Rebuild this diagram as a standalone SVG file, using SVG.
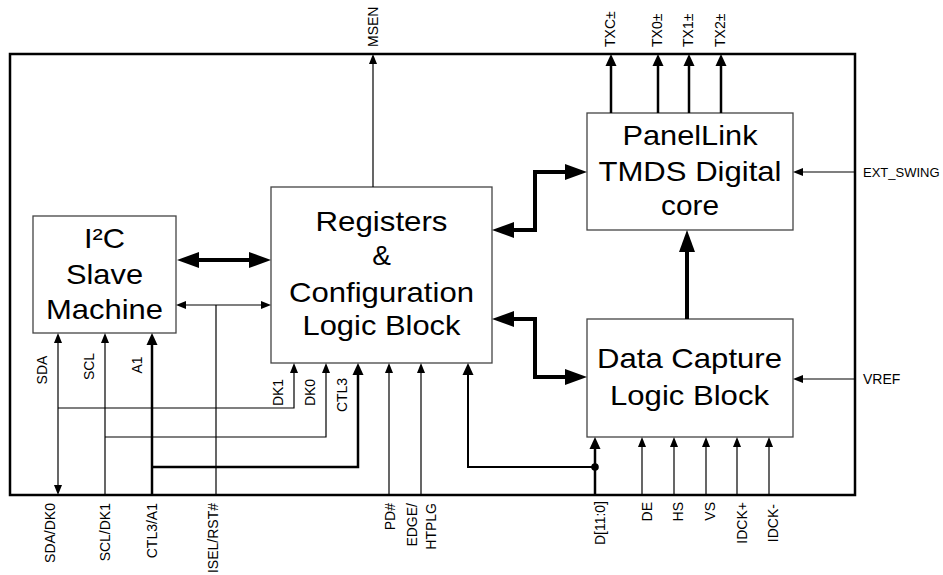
<svg xmlns="http://www.w3.org/2000/svg" width="943" height="575" viewBox="0 0 943 575">
<style>
.box{fill:#fff;stroke:#444;stroke-width:1.3}
.big{font-family:"Liberation Sans",Arial,sans-serif;font-size:28px;fill:#000;text-anchor:middle}
.lbl{font-family:"Liberation Sans",Arial,sans-serif;font-size:14px;fill:#000}
.w1{fill:none;stroke:#000;stroke-width:1.2}
.w2{fill:none;stroke:#000;stroke-width:2.5}
.w4{fill:none;stroke:#000;stroke-width:4}
.mid{text-anchor:middle}
.end{text-anchor:end}
</style>
<defs>
<marker id="aS" markerUnits="userSpaceOnUse" markerWidth="10" markerHeight="8" refX="0" refY="4" orient="auto-start-reverse" overflow="visible"><path d="M0,0 L10,4 L0,8 z" fill="#000"/></marker>
<marker id="aM" markerUnits="userSpaceOnUse" markerWidth="12" markerHeight="11" refX="0" refY="5.5" orient="auto-start-reverse" overflow="visible"><path d="M0,0 L12,5.5 L0,11 z" fill="#000"/></marker>
<marker id="aL" markerUnits="userSpaceOnUse" markerWidth="22" markerHeight="16" refX="0" refY="8" orient="auto-start-reverse" overflow="visible"><path d="M0,0 L22,8 L0,16 z" fill="#000"/></marker>
</defs>
<rect width="943" height="575" fill="#fff"/>
<g id="frame"><rect x="10" y="54" width="845" height="441" fill="none" stroke="#000" stroke-width="2.5"/></g>
<g id="i2c">
<rect class="box" x="33" y="216" width="143" height="117"/>
<text class="big" x="104.5" y="248" textLength="41" lengthAdjust="spacingAndGlyphs">I²C</text>
<text class="big" x="104.5" y="284" textLength="77" lengthAdjust="spacingAndGlyphs">Slave</text>
<text class="big" x="104.5" y="319" textLength="117" lengthAdjust="spacingAndGlyphs">Machine</text>
</g>
<g id="registers">
<rect class="box" x="271" y="187" width="221" height="176"/>
<text class="big" x="381.5" y="231" textLength="132" lengthAdjust="spacingAndGlyphs">Registers</text>
<text class="big" x="381.5" y="265">&amp;</text>
<text class="big" x="381.5" y="302" textLength="185" lengthAdjust="spacingAndGlyphs">Configuration</text>
<text class="big" x="381.5" y="335" textLength="158" lengthAdjust="spacingAndGlyphs">Logic Block</text>
</g>
<g id="panellink">
<rect class="box" x="587" y="113" width="206" height="117"/>
<text class="big" x="690" y="145" textLength="135" lengthAdjust="spacingAndGlyphs">PanelLink</text>
<text class="big" x="690" y="181" textLength="183" lengthAdjust="spacingAndGlyphs">TMDS Digital</text>
<text class="big" x="690" y="215" textLength="58" lengthAdjust="spacingAndGlyphs">core</text>
</g>
<g id="datacapture">
<rect class="box" x="587" y="319" width="206" height="118"/>
<text class="big" x="689.5" y="368" textLength="185" lengthAdjust="spacingAndGlyphs">Data Capture</text>
<text class="big" x="689.5" y="405" textLength="159" lengthAdjust="spacingAndGlyphs">Logic Block</text>
</g>
<g id="connectors">
<path class="w4" d="M199,260 H249" marker-start="url(#aL)" marker-end="url(#aL)"/>
<path class="w1" d="M186,305 H261" marker-start="url(#aS)" marker-end="url(#aS)"/>
<path class="w1" d="M216,305 V495"/>
<path class="w1" d="M58,343 V485" marker-start="url(#aS)" marker-end="url(#aS)"/>
<path class="w1" d="M58,408 H294 V373" marker-end="url(#aS)"/>
<path class="w1" d="M105,495 V343" marker-end="url(#aS)"/>
<path class="w1" d="M105,437 H326 V373" marker-end="url(#aS)"/>
<path class="w2" d="M152,495 V345" marker-end="url(#aM)"/>
<path class="w2" d="M152,467 H358 V375" marker-end="url(#aM)"/>
<path class="w1" d="M389,495 V373" marker-end="url(#aS)"/>
<path class="w1" d="M421,495 V373" marker-end="url(#aS)"/>
<path fill="none" stroke="#000" stroke-width="2" d="M595,467 H468 V375" marker-end="url(#aM)"/>
<circle cx="595" cy="467" r="3.8" fill="#000"/>
<path class="w2" d="M595,495 V449" marker-end="url(#aM)"/>
<path class="w1" d="M642,495 V447" marker-end="url(#aS)"/>
<path class="w1" d="M674,495 V447" marker-end="url(#aS)"/>
<path class="w1" d="M706,495 V447" marker-end="url(#aS)"/>
<path class="w1" d="M737,495 V447" marker-end="url(#aS)"/>
<path class="w1" d="M769,495 V447" marker-end="url(#aS)"/>
<path class="w1" d="M373,187 V64" marker-end="url(#aS)"/>
<path class="w2" d="M611,113 V66" marker-end="url(#aM)"/>
<path class="w2" d="M658,113 V66" marker-end="url(#aM)"/>
<path class="w2" d="M689,113 V66" marker-end="url(#aM)"/>
<path class="w2" d="M721,113 V66" marker-end="url(#aM)"/>
<path class="w1" d="M855,172 H803" marker-end="url(#aS)"/>
<path class="w1" d="M855,379 H803" marker-end="url(#aS)"/>
<path class="w4" d="M514,230 H535 V172 H565" marker-start="url(#aL)" marker-end="url(#aL)"/>
<path class="w4" d="M514,319 H535 V377 H565" marker-start="url(#aL)" marker-end="url(#aL)"/>
<path class="w4" d="M687,319 V252" marker-end="url(#aL)"/>
</g>
<g id="labels">
<text class="lbl mid" transform="translate(47,370) rotate(-90)">SDA</text>
<text class="lbl mid" transform="translate(94,366.5) rotate(-90)">SCL</text>
<text class="lbl mid" transform="translate(142,365) rotate(-90)">A1</text>
<text class="lbl mid" transform="translate(283,392.5) rotate(-90)">DK1</text>
<text class="lbl mid" transform="translate(315,392.5) rotate(-90)">DK0</text>
<text class="lbl mid" transform="translate(347,395) rotate(-90)">CTL3</text>
<text class="lbl end" transform="translate(55,503) rotate(-90)">SDA/DK0</text>
<text class="lbl end" transform="translate(110,503) rotate(-90)">SCL/DK1</text>
<text class="lbl end" transform="translate(156.5,503) rotate(-90)">CTL3/A1</text>
<text class="lbl end" transform="translate(218,503) rotate(-90)">ISEL/RST#</text>
<text class="lbl end" transform="translate(395,503) rotate(-90)">PD#</text>
<text class="lbl end" transform="translate(417,503) rotate(-90)">EDGE/</text>
<text class="lbl end" transform="translate(436,503) rotate(-90)">HTPLG</text>
<text class="lbl end" transform="translate(605,501) rotate(-90)">D[11:0]</text>
<text class="lbl end" transform="translate(652,502) rotate(-90)">DE</text>
<text class="lbl end" transform="translate(683,502) rotate(-90)">HS</text>
<text class="lbl end" transform="translate(715,502) rotate(-90)">VS</text>
<text class="lbl end" transform="translate(746.5,502) rotate(-90)">IDCK+</text>
<text class="lbl end" transform="translate(778,504) rotate(-90)">IDCK-</text>
<text class="lbl" transform="translate(378,47) rotate(-90)">MSEN</text>
<text class="lbl" transform="translate(615,47) rotate(-90)">TXC±</text>
<text class="lbl" transform="translate(662,47) rotate(-90)">TX0±</text>
<text class="lbl" transform="translate(693,47) rotate(-90)">TX1±</text>
<text class="lbl" transform="translate(725,47) rotate(-90)">TX2±</text>
<text class="lbl" x="863" y="177" font-size="13px" style="font-size:13px">EXT_SWING</text>
<text class="lbl" x="863" y="383.5">VREF</text>
</g>
</svg>
